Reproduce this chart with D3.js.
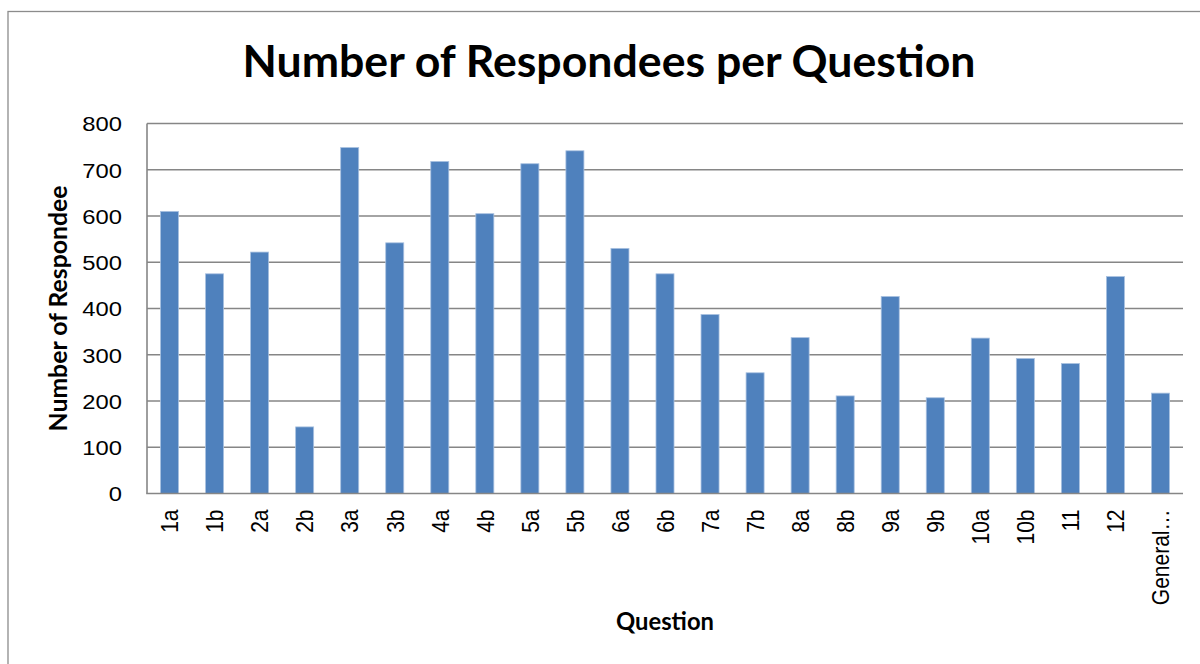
<!DOCTYPE html>
<html>
<head>
<meta charset="utf-8">
<script src="https://cdn.jsdelivr.net/npm/d3@7"></script>
<style>
  html, body { margin: 0; padding: 0; background: #fff; }
  svg { display: block; }
</style>
</head>
<body>
<svg id="chart" width="1200" height="664"></svg>
<script>
// Questions along the x axis
const questions = ["1a","1b","2a","2b","3a","3b","4a","4b","5a","5b","6a","6b",
                   "7a","7b","8a","8b","9a","9b","10a","10b","11","12","General…"];
// Respondee counts per question
const respondees = [610,475,522,144,748,542,718,605,713,741,530,475,
                    387,261,337,211,426,207,336,292,281,469,217];
// Value axis ticks
const yTicks = [0,100,200,300,400,500,600,700,800];

const titleText = "Number of Respondees per Question";
const yTitle = "Number of Respondee";
const xTitle = "Question";

const svg = d3.select("#chart");
const plot = { left: 147, right: 1183, top: 123.5, bottom: 493.5 };
const wide = 1.16; // horizontal stretch of the label glyphs
const labelFont = "'Liberation Sans', Arial, sans-serif";

// Chart area frame
svg.append("rect")
  .attr("x", 8).attr("y", 11.5)
  .attr("width", 1210).attr("height", 680)
  .attr("fill", "#fff").attr("stroke", "#8c8c8c").attr("stroke-width", 1.3);

const x = d3.scaleBand()
  .domain(questions)
  .range([plot.left, plot.right])
  .paddingInner(0.6).paddingOuter(0.3);

const y = d3.scaleLinear()
  .domain([0, 800])
  .range([plot.bottom, plot.top]);

// Value axis labels
const yAxis = d3.axisLeft(y).tickValues(yTicks).tickSize(0).tickPadding(0)
  .tickFormat(d3.format("d"));
const gy = svg.append("g").attr("transform", `translate(${plot.left},0)`).call(yAxis);
gy.select(".domain").remove();
gy.selectAll(".tick line").remove();
gy.selectAll(".tick text")
  .attr("font-family", labelFont)
  .attr("font-size", 20.5).attr("fill", "#000")
  .attr("text-anchor", "end")
  .attr("x", 0).attr("dy", "0.36em")
  .attr("transform", `translate(-25,0) scale(${wide},1)`);

// Horizontal gridlines
svg.append("g").selectAll("line.grid")
  .data(yTicks.filter(d => d > 0))
  .join("line")
  .attr("x1", plot.left).attr("x2", plot.right)
  .attr("y1", d => y(d)).attr("y2", d => y(d))
  .attr("stroke", "#868686").attr("stroke-width", 1.6);

// Bars
svg.append("g").selectAll("rect.bar")
  .data(questions)
  .join("rect")
  .attr("x", d => x(d))
  .attr("width", x.bandwidth())
  .attr("y", (d, i) => y(respondees[i]))
  .attr("height", (d, i) => y(0) - y(respondees[i]))
  .attr("fill", "#4f81bd")
  .attr("stroke", "#a9c1e0").attr("stroke-width", 0.8);

// Axis lines
svg.append("line")
  .attr("x1", plot.left).attr("x2", plot.left)
  .attr("y1", plot.top).attr("y2", plot.bottom)
  .attr("stroke", "#868686").attr("stroke-width", 1.6);
svg.append("line")
  .attr("x1", plot.left - 0.8).attr("x2", plot.right)
  .attr("y1", plot.bottom).attr("y2", plot.bottom)
  .attr("stroke", "#868686").attr("stroke-width", 1.6);

// Category labels, rotated
const xAxis = d3.axisBottom(x).tickSize(0).tickPadding(0);
const gx = svg.append("g").attr("transform", `translate(0,${plot.bottom})`).call(xAxis);
gx.select(".domain").remove();
gx.selectAll(".tick text")
  .attr("font-family", labelFont)
  .attr("font-size", 21).attr("fill", "#000")
  .attr("text-anchor", "end")
  .attr("transform", `translate(0,16) scale(${wide},1) rotate(-90)`)
  .attr("x", 0).attr("y", 0).attr("dy", "0.36em");

// Titles
function fitText(sel, target) {
  const len = sel.node().getComputedTextLength();
  const fs = parseFloat(sel.attr("font-size"));
  sel.attr("font-size", fs * target / len);
}

const bold = "Lato, 'Open Sans', 'DejaVu Sans', sans-serif";
const t = svg.append("text")
  .attr("x", 609).attr("y", 77)
  .attr("text-anchor", "middle")
  .attr("font-family", bold).attr("font-weight", "bold")
  .attr("font-size", 36).attr("fill", "#000")
  .text(titleText);
fitText(t, 733);

const yt = svg.append("text")
  .attr("transform", `translate(67,${(plot.top + plot.bottom) / 2}) rotate(-90)`)
  .attr("text-anchor", "middle")
  .attr("font-family", bold).attr("font-weight", "bold")
  .attr("font-size", 20).attr("fill", "#000")
  .text(yTitle);
fitText(yt, 246);

const xt = svg.append("text")
  .attr("x", (plot.left + plot.right) / 2).attr("y", 630)
  .attr("text-anchor", "middle")
  .attr("font-family", bold).attr("font-weight", "bold")
  .attr("font-size", 20).attr("fill", "#000")
  .text(xTitle);
fitText(xt, 98);
</script>
</body>
</html>
